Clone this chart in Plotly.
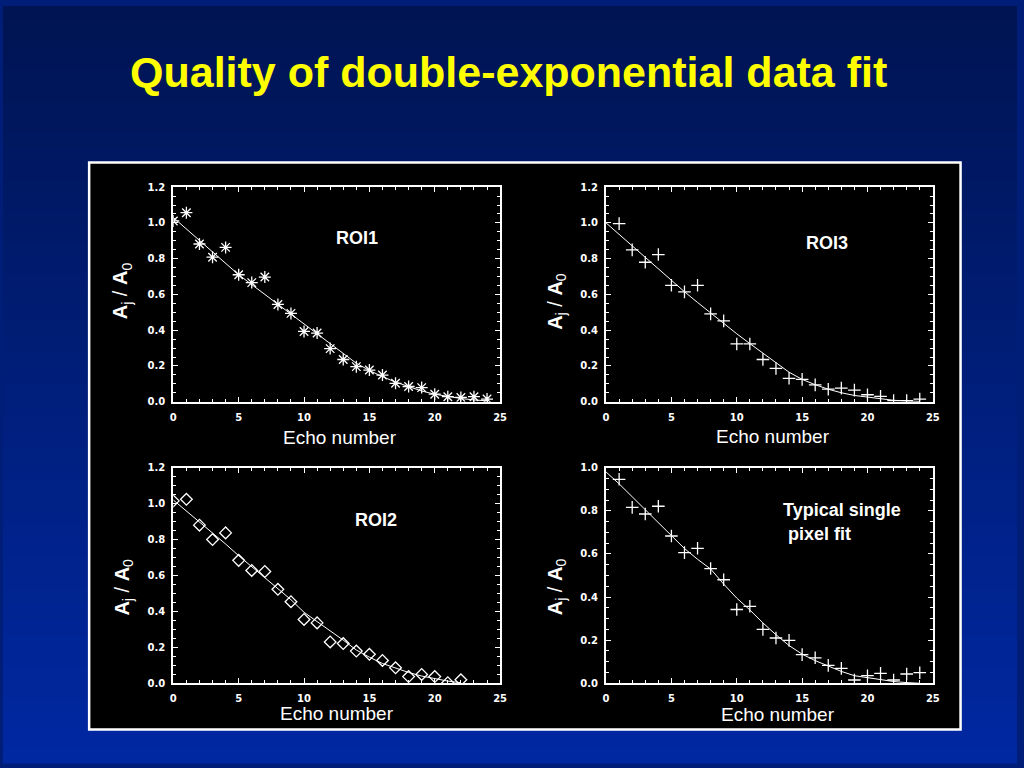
import plotly.graph_objects as go

# ---------------- data ----------------
roi1_x = list(range(0, 25))
roi1_y = [1.011, 1.057, 0.882, 0.808, 0.863, 0.710, 0.666, 0.697, 0.544, 0.494,
          0.393, 0.384, 0.297, 0.236, 0.196, 0.177, 0.149, 0.103, 0.085, 0.079,
          0.042, 0.028, 0.024, 0.028, 0.015]
roi1_fit = [1.03, 0.965, 0.90, 0.835, 0.77, 0.71, 0.655, 0.60, 0.545, 0.49,
            0.43, 0.375, 0.32, 0.265, 0.215, 0.175, 0.14, 0.11, 0.083, 0.06,
            0.042, 0.028, 0.018, 0.01, 0.005]

roi3_x = list(range(1, 25))
roi3_y = [0.996, 0.849, 0.780, 0.823, 0.651, 0.614, 0.651, 0.491, 0.452, 0.323,
          0.323, 0.236, 0.186, 0.131, 0.125, 0.094, 0.070, 0.076, 0.065, 0.039,
          0.030, 0.006, 0.006, 0.015]
roi3_fit_x = list(range(0, 25))
roi3_fit = [1.0, 0.935, 0.87, 0.81, 0.745, 0.68, 0.615, 0.555, 0.495, 0.435,
            0.38, 0.325, 0.27, 0.215, 0.165, 0.125, 0.095, 0.07, 0.05, 0.035,
            0.025, 0.015, 0.008, 0.004, 0.002]

roi2_x = list(range(0, 23))
roi2_y = [1.015, 1.024, 0.880, 0.800, 0.837, 0.684, 0.628, 0.622, 0.523, 0.454,
          0.355, 0.336, 0.230, 0.221, 0.179, 0.161, 0.127, 0.086, 0.037, 0.049,
          0.037, 0.003, 0.019]
roi2_fit = [1.02, 0.96, 0.90, 0.84, 0.775, 0.71, 0.65, 0.59, 0.53, 0.465,
            0.395, 0.345, 0.29, 0.24, 0.185, 0.145, 0.11, 0.085, 0.06, 0.04,
            0.025, 0.012, 0.003]

pix_x = list(range(1, 25))
pix_y = [0.946, 0.816, 0.785, 0.821, 0.683, 0.606, 0.626, 0.532, 0.480, 0.342,
         0.357, 0.250, 0.210, 0.199, 0.133, 0.118, 0.083, 0.069, 0.015, 0.035,
         0.046, 0.015, 0.043, 0.049]
pix_fit_x = list(range(0, 25))
pix_fit = [0.98, 0.925, 0.865, 0.805, 0.745, 0.685, 0.625, 0.575, 0.53, 0.46,
           0.395, 0.34, 0.28, 0.225, 0.175, 0.135, 0.105, 0.08, 0.055, 0.035,
           0.025, 0.015, 0.008, 0.003, 0.0]

x_range = [0, 25]
x_ticks = [0, 5, 10, 15, 20, 25]

title_text = "Quality of double-exponential data fit"
panel_labels = ["ROI1", "ROI3", "ROI2", "Typical single", "pixel fit"]
xlabel = "Echo number"
ylabel = "<b>A</b><sub>j</sub> / <b>A</b><sub>0</sub>"

# ---------------- layout helpers ----------------
W, H = 1024, 768
def PX(x):
    return x / W
def PY(y):
    return 1 - y / H

SANS = "Liberation Sans, Arial, sans-serif"
TICKFONT = dict(family="DejaVu Sans", size=10, color="white", weight="bold")

def xaxis(dom, anchor):
    return dict(domain=dom, anchor=anchor, range=x_range, tickvals=x_ticks,
                ticks="inside", ticklen=5, tickwidth=1, tickcolor="white",
                showline=True, linecolor="white", linewidth=2, mirror="allticks",
                showgrid=False, zeroline=False, tickfont=TICKFONT,
                ticklabelstandoff=5,
                minor=dict(ticks="inside", dtick=1, tick0=0, ticklen=3,
                           tickcolor="white", tickwidth=1, showgrid=False))

def yaxis(dom, anchor, top):
    return dict(domain=dom, anchor=anchor, range=[0, top], dtick=0.2, tick0=0,
                tickformat=".1f",
                ticks="inside", ticklen=5, tickwidth=1, tickcolor="white",
                showline=True, linecolor="white", linewidth=2, mirror="allticks",
                showgrid=False, zeroline=False, tickfont=TICKFONT,
                ticklabelstandoff=4,
                minor=dict(ticks="inside", dtick=0.05, tick0=0, ticklen=3,
                           tickcolor="white", tickwidth=1, showgrid=False))

L = [PX(172), PX(502)]
R = [PX(609), PX(939)]
T = [PY(402), PY(184)]
B = [PY(688), PY(469)]

fig = go.Figure()

def add_panel(xs, ys, fx, fy, sym, size, xa, ya):
    fig.add_trace(go.Scatter(x=fx, y=fy, mode="lines", xaxis=xa, yaxis=ya,
                             line=dict(color="white", width=1), showlegend=False,
                             hoverinfo="skip"))
    fig.add_trace(go.Scatter(x=xs, y=ys, mode="markers", xaxis=xa, yaxis=ya,
                             marker=dict(symbol=sym, size=size, color="white",
                                         line=dict(color="white", width=1.3)),
                             showlegend=False))

add_panel(roi1_x, roi1_y, roi1_x, roi1_fit, "asterisk-open", 10, "x", "y")
add_panel(roi3_x, roi3_y, roi3_fit_x, roi3_fit, "cross-thin-open", 9, "x2", "y2")
add_panel(roi2_x, roi2_y, roi2_x, roi2_fit, "diamond-open", 9, "x3", "y3")
add_panel(pix_x, pix_y, pix_fit_x, pix_fit, "cross-thin-open", 9, "x4", "y4")

# background gradient strips
shapes = []
n = 48
top_c = (0, 20, 82)
bot_c = (0, 40, 162)
for i in range(n):
    t = (i + 0.5) / n
    c = tuple(int(round(top_c[k] + (bot_c[k] - top_c[k]) * t)) for k in range(3))
    shapes.append(dict(type="rect", xref="paper", yref="paper", x0=0, x1=1,
                       y0=1 - (i + 1) / n - 0.002, y1=1 - i / n,
                       fillcolor="rgb(%d,%d,%d)" % c, line=dict(width=0),
                       layer="below"))
# black plot panel with white border
shapes.append(dict(type="rect", xref="paper", yref="paper",
                   x0=PX(87), x1=PX(967), y0=PY(735), y1=PY(159),
                   fillcolor="black", line=dict(color="white", width=2.5),
                   layer="below"))

ann = []
ann.append(dict(text="<b>" + title_text + "</b>", x=PX(510), y=PY(67),
                xref="paper", yref="paper", showarrow=False,
                xanchor="center", yanchor="middle",
                font=dict(family=SANS, size=43, color="#FFFF00")))

def label(txt, x, y, size=18, bold=True, xanchor="center"):
    ann.append(dict(text=("<b>%s</b>" % txt) if bold else txt, x=PX(x), y=PY(y),
                    xref="paper", yref="paper", showarrow=False,
                    xanchor=xanchor, yanchor="middle",
                    font=dict(family=SANS, size=size, color="white")))

label(panel_labels[0], 357, 236)
label(panel_labels[1], 832, 241)
label(panel_labels[2], 377, 522)
label(panel_labels[3], 786, 512, xanchor="left")
label(panel_labels[4], 791, 536, xanchor="left")

for (x, y) in [(340, 438), (778, 437), (337, 719), (783, 720)]:
    label(xlabel, x, y, size=19, bold=False)

for (x, y) in [(120, 289), (559, 300), (122, 590), (559, 590)]:
    ann.append(dict(text=ylabel, x=PX(x), y=PY(y), xref="paper", yref="paper",
                    showarrow=False, textangle=-90,
                    xanchor="center", yanchor="middle",
                    font=dict(family=SANS, size=20, color="white")))

fig.update_layout(
    width=W, height=H, margin=dict(l=0, r=0, t=0, b=0),
    paper_bgcolor="rgb(0,30,120)", plot_bgcolor="black",
    xaxis=xaxis(L, "y"), yaxis=yaxis(T, "x", 1.2),
    xaxis2=xaxis(R, "y2"), yaxis2=yaxis(T, "x2", 1.2),
    xaxis3=xaxis(L, "y3"), yaxis3=yaxis(B, "x3", 1.2),
    xaxis4=xaxis(R, "y4"), yaxis4=yaxis(B, "x4", 1.0),
    shapes=shapes, annotations=ann, showlegend=False,
)

fig.write_html("out.html",
               config={"displayModeBar": False},
               post_script="document.documentElement.style.margin='0px';"
                           "document.body.style.margin='0px';"
                           "document.body.style.padding='0px';"
                           "document.body.style.overflow='hidden';")
